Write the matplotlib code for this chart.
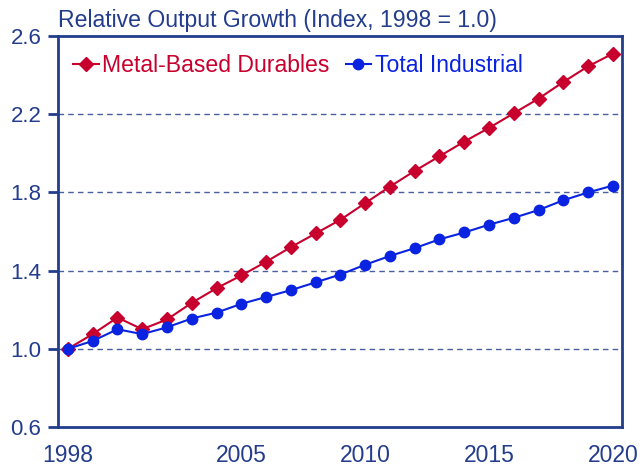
import matplotlib.pyplot as plt

years = list(range(1998, 2021))
metal_durables = [1.00, 1.075, 1.16, 1.10, 1.15, 1.235, 1.31, 1.375, 1.445, 1.52, 1.59, 1.66,
                  1.745, 1.83, 1.91, 1.985, 2.06, 2.13, 2.205, 2.28, 2.365, 2.445, 2.51]
total_industrial = [1.00, 1.04, 1.10, 1.075, 1.11, 1.155, 1.185, 1.23, 1.265, 1.30, 1.34, 1.38,
                    1.43, 1.475, 1.515, 1.56, 1.595, 1.635, 1.67, 1.71, 1.76, 1.80, 1.835]
y_ticks = [0.6, 1.0, 1.4, 1.8, 2.2, 2.6]
x_ticks = [1998, 2005, 2010, 2015, 2020]

NAVY = '#233C8C'
RED = '#C8002D'
BLUE = '#0A23E0'

plt.rcParams['font.family'] = ['Liberation Sans', 'DejaVu Sans']

fig = plt.figure(figsize=(6.4, 4.66), dpi=100)
ax = fig.add_axes([0.0906, 0.0837, 0.8814, 0.839])

ax.plot(years, metal_durables, color=RED, lw=1.5, marker='D', markersize=7,
        label='Metal-Based Durables', zorder=3)
ax.plot(years, total_industrial, color=BLUE, lw=1.5, marker='o', markersize=7.5,
        label='Total Industrial', zorder=3)

ax.set_xlim(1997.6, 2020.37)
ax.set_ylim(0.6, 2.6)
ax.set_yticks(y_ticks)
ax.set_yticklabels([f'{v:.1f}' for v in y_ticks])
ax.set_xticks(x_ticks)

for v in [1.0, 1.4, 1.8, 2.2]:
    ax.axhline(v, color='#4A5FA0', lw=1, ls=(0, (4, 3)), zorder=1)

for s in ax.spines.values():
    s.set_color(NAVY)
    s.set_linewidth(2)

ax.tick_params(axis='y', colors=NAVY, labelsize=16, length=7, width=2, direction='out', pad=5)
ax.tick_params(axis='x', colors=NAVY, labelsize=16.5, length=0, pad=12)

fig.text(0.0906, 0.942, 'Relative Output Growth (Index, 1998 = 1.0)', color=NAVY,
         fontsize=16.6, ha='left', va='baseline')

ax.legend(loc='upper left', frameon=False, fontsize=16.6, labelcolor='linecolor',
          ncol=2, handlelength=1.1, handletextpad=0.15, columnspacing=0.7,
          borderaxespad=0, bbox_to_anchor=(0.011, 0.977))

fig.savefig('out.png', dpi=100)
